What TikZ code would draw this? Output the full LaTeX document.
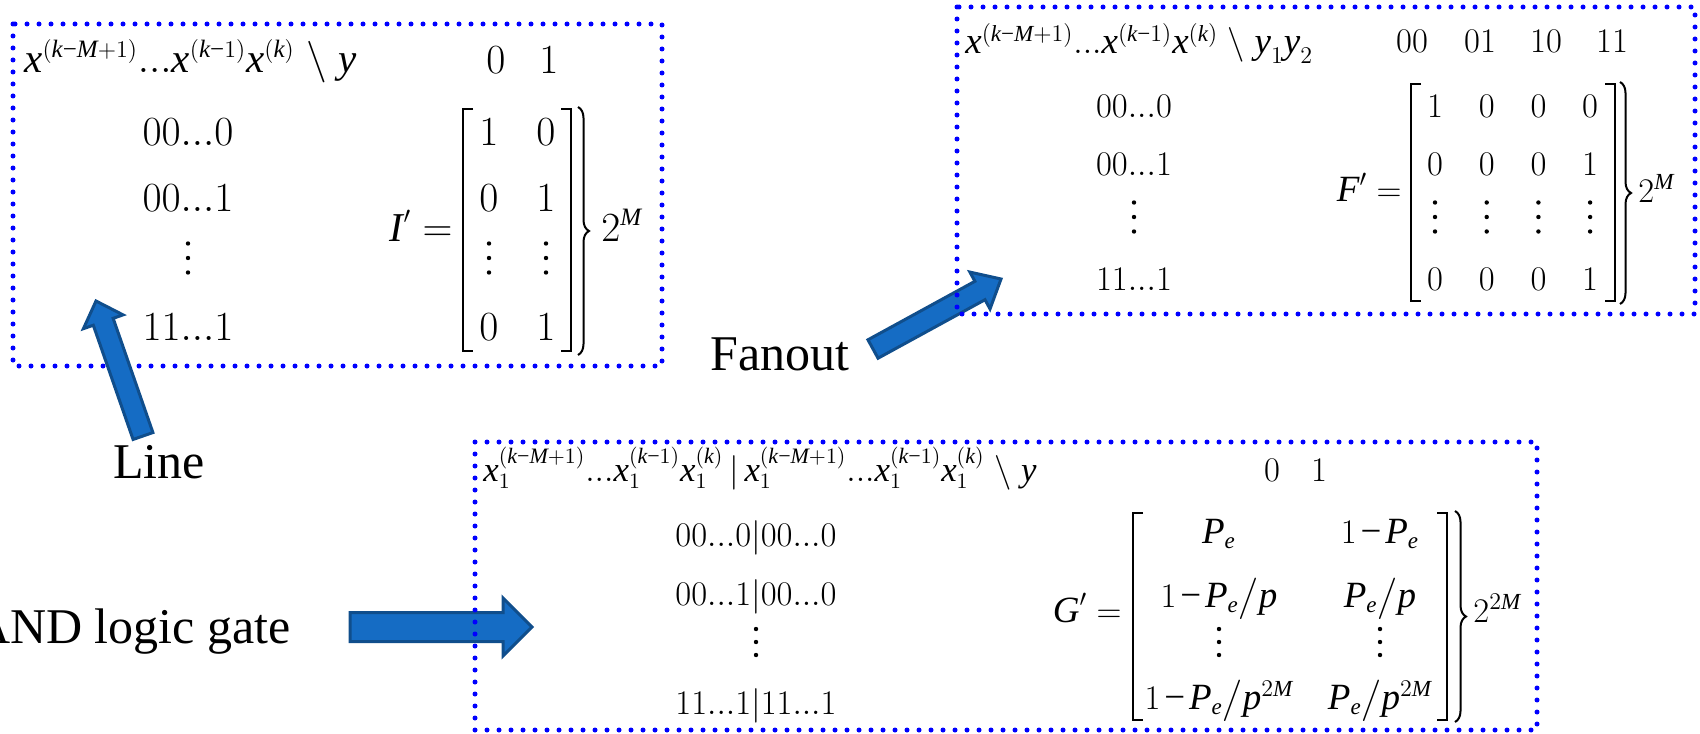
\documentclass[tikz,border=0pt]{standalone}
\usepackage{amsmath}
\usepackage{fontspec}
\setmainfont{Liberation Serif}
\usetikzlibrary{calc,decorations.pathreplacing}

% smaller indices, as in the tables' typesetting
\DeclareMathSizes{20.5}{20.5}{12.5}{9}
\DeclareMathSizes{18.5}{18.5}{11.5}{8}
\DeclareMathSizes{17.4}{17.4}{11}{8}

\definecolor{dotblue}{RGB}{0,0,255}
\definecolor{arrowfill}{RGB}{21,108,196}
\definecolor{arrowedge}{RGB}{16,78,140}

% italic letter set in the text face, usable in formulas
\newcommand\iv[1]{\textit{#1}}
% text minus sign as a binary operator / as a plain symbol
\newcommand\mns{\mathbin{\textup{−}}}
\newcommand\tmns{\mathord{\textup{−}}}

% three stacked dots: x, y, spacing
\newcommand\vdotsat[3]{\foreach \k in {-1,0,1}{\fill ({#1},{#2+\k*#3}) circle (1.1pt);}}

% block arrow: tail, tip, shaft half width, head half width, head length
\newcommand\fatarrow[5]{%
  \coordinate (hb) at ($(#2)!#5!(#1)$);
  \draw[blockarrow] ($(#1)!#3!90:(#2)$) -- ($(hb)!#3!90:(#2)$) -- ($(hb)!#4!90:(#2)$)
    -- (#2) -- ($(hb)!#4!-90:(#2)$) -- ($(hb)!#3!-90:(#2)$) -- ($(#1)!#3!-90:(#2)$) -- cycle;}

% square bracket: x, top, bottom, tick direction
\newcommand\sqbrk[4]{\draw[brk] ({#1+#4},#2) -- (#1,#2) -- (#1,#3) -- ({#1+#4},#3);}

\tikzset{
  tablebox/.style={draw=dotblue, line width=2.5pt, dash pattern=on 0pt off 6pt, line cap=round},
  blockarrow/.style={fill=arrowfill, draw=arrowedge, line width=1.5pt, line join=miter},
  lbl/.style={font=\fontsize{25}{30}\selectfont, inner sep=0pt},
  mA/.style={font=\fontsize{20.5}{24}\selectfont, inner sep=0pt},
  mB/.style={font=\fontsize{18.5}{22}\selectfont, inner sep=0pt},
  mC/.style={font=\fontsize{18.5}{22}\selectfont, inner sep=0pt},
  mCh/.style={font=\fontsize{17.4}{21}\selectfont, inner sep=0pt},
  brk/.style={line width=1pt},
  brc/.style={line width=1pt, decorate, decoration={brace, amplitude=5.5pt}},
}

\begin{document}
\begin{tikzpicture}[x=0.5pt, y=-0.5pt]
\useasboundingbox (0,0) rectangle (1700,733);
\clip (0,0) rectangle (1700,733);

% ---------- labels ----------
\node[lbl, anchor=base] (lblLine) at (159,478) {Line};
\node[lbl, anchor=base west] (lblFan) at (710,370) {Fanout};
\node[lbl, anchor=base east] (lblAnd) at (291,643) {AND logic gate};

% ---------- arrows under the boxes ----------
\coordinate (fanTail) at (873,349);
\coordinate (fanTip) at (1001,279);
\fatarrow{fanTail}{fanTip}{5.25pt}{10.5pt}{12pt}
\coordinate (andTail) at (350,627);
\coordinate (andTip) at (532,627);
\fatarrow{andTail}{andTip}{7.25pt}{14.5pt}{14.5pt}

% ---------- line table ----------
\draw[tablebox] (13,24) rectangle (662,366);
\node[mA, anchor=base west] (hdrI) at (24,73)
  {$\iv{x}^{(\iv{k}\tmns\iv{M}+1)}...\iv{x}^{(\iv{k}\tmns1)}\iv{x}^{(\iv{k})}\;\backslash\;\iv{y}$};
\node[mA, anchor=base] (cI0) at (496,74) {$0$};
\node[mA, anchor=base] (cI1) at (549,74) {$1$};
\node[mA, anchor=base] (rI1) at (188,145) {$00...0$};
\node[mA, anchor=base] (rI2) at (188,211) {$00...1$};
\vdotsat{188}{258}{14.5}
\node[mA, anchor=base] (rI4) at (188,340) {$11...1$};
\node[mA, anchor=base east] (eqI) at (453,241) {$\iv{I}'=$};
\node[mA, anchor=base] (i11) at (489,145) {$1$};
\node[mA, anchor=base] (i12) at (546,145) {$0$};
\node[mA, anchor=base] (i21) at (489,211) {$0$};
\node[mA, anchor=base] (i22) at (546,211) {$1$};
\vdotsat{489}{258}{14.5}
\vdotsat{546}{258}{14.5}
\node[mA, anchor=base] (i41) at (489,340) {$0$};
\node[mA, anchor=base] (i42) at (546,340) {$1$};
\sqbrk{463}{108.6}{351.4}{10}
\sqbrk{571.4}{108.6}{351.4}{-10}
\draw[brc] (578,107) -- (578,355);
\node[mA, anchor=base west] (pI) at (601,241) {$2^{\iv{M}}$};

% ---------- fanout table ----------
\draw[tablebox] (957,7) rectangle (1695,314);
\node[mB, anchor=base west] (hdrF) at (965,54)
  {$\iv{x}^{(\iv{k}\tmns\iv{M}+1)}...\iv{x}^{(\iv{k}\tmns1)}\iv{x}^{(\iv{k})}\;\backslash\;\iv{y}_1\iv{y}_2$};
\node[mB, anchor=base] (cF1) at (1412,53) {$00$};
\node[mB, anchor=base] (cF2) at (1480,53) {$01$};
\node[mB, anchor=base] (cF3) at (1546,53) {$10$};
\node[mB, anchor=base] (cF4) at (1612,53) {$11$};
\node[mB, anchor=base] (rF1) at (1134,118) {$00...0$};
\node[mB, anchor=base] (rF2) at (1134,175) {$00...1$};
\vdotsat{1134}{217}{14.5}
\node[mB, anchor=base] (rF4) at (1134,290) {$11...1$};
\node[mB, anchor=base east] (eqF) at (1402,201) {$\iv{F}'=$};
\foreach \c in {1,...,4}{
  \vdotsat{1435+(\c-1)*51.7}{217}{14.5}
}
\foreach \v [count=\c] in {1,0,0,0}{
  \node[mB, anchor=base] (f1\c) at ({1435+(\c-1)*51.7},118) {$\v$};
}
\foreach \v [count=\c] in {0,0,0,1}{
  \node[mB, anchor=base] (f2\c) at ({1435+(\c-1)*51.7},175) {$\v$};
}
\foreach \v [count=\c] in {0,0,0,1}{
  \node[mB, anchor=base] (f4\c) at ({1435+(\c-1)*51.7},290) {$\v$};
}
\sqbrk{1411}{83.7}{300.6}{10}
\sqbrk{1615}{83.7}{300.6}{-10}
\draw[brc] (1620,82) -- (1620,304);
\node[mB, anchor=base west] (pF) at (1638,202) {$2^{\iv{M}}$};

% ---------- AND gate table ----------
\draw[tablebox] (475,442) rectangle (1537,730);
\node[mCh, anchor=base west] (hdrG) at (483,481)
  {$\iv{x}_1^{(\iv{k}\tmns\iv{M}+1)}...\iv{x}_1^{(\iv{k}\tmns1)}\iv{x}_1^{(\iv{k})}\,|\,\iv{x}_1^{(\iv{k}\tmns\iv{M}+1)}...\iv{x}_1^{(\iv{k}\tmns1)}\iv{x}_1^{(\iv{k})}\;\backslash\;\iv{y}$};
\node[mC, anchor=base] (cG0) at (1272,481) {$0$};
\node[mC, anchor=base] (cG1) at (1319,481) {$1$};
\node[mC, anchor=base] (rG1) at (756,546) {$00...0|00...0$};
\node[mC, anchor=base] (rG2) at (756,605) {$00...1|00...0$};
\vdotsat{756}{642}{13}
\node[mC, anchor=base] (rG4) at (756,714) {$11...1|11...1$};
\node[mC, anchor=base east] (eqG) at (1122,622) {$\iv{G}'=$};
\node[mC, anchor=base] (g11) at (1219,543) {$\iv{P}_{\iv{e}}$};
\node[mC, anchor=base] (g12) at (1380,543) {$1\mkern-2mu\mns\mkern-2mu\iv{P}_{\iv{e}}$};
\node[mC, anchor=base] (g21) at (1219,607) {$1\mkern-2mu\mns\mkern-2mu\iv{P}_{\iv{e}}\big/\iv{p}$};
\node[mC, anchor=base] (g22) at (1380,607) {$\iv{P}_{\iv{e}}\big/\iv{p}$};
\vdotsat{1219}{642}{13}
\vdotsat{1380}{642}{13}
\node[mC, anchor=base] (g41) at (1219,709) {$1\mkern-2mu\mns\mkern-2mu\iv{P}_{\iv{e}}\big/\iv{p}^{2\iv{M}}$};
\node[mC, anchor=base] (g42) at (1380,709) {$\iv{P}_{\iv{e}}\big/\iv{p}^{2\iv{M}}$};
\sqbrk{1133}{513}{720}{10}
\sqbrk{1447}{513}{720}{-10}
\draw[brc] (1455,511) -- (1455,722);
\node[mC, anchor=base west] (pG) at (1473,622) {$2^{2\iv{M}}$};

% ---------- arrow over the line table ----------
\coordinate (lineTail) at (143,436);
\coordinate (lineTip) at (96,301);
\fatarrow{lineTail}{lineTip}{5.25pt}{10.5pt}{11pt}
\end{tikzpicture}
\end{document}
